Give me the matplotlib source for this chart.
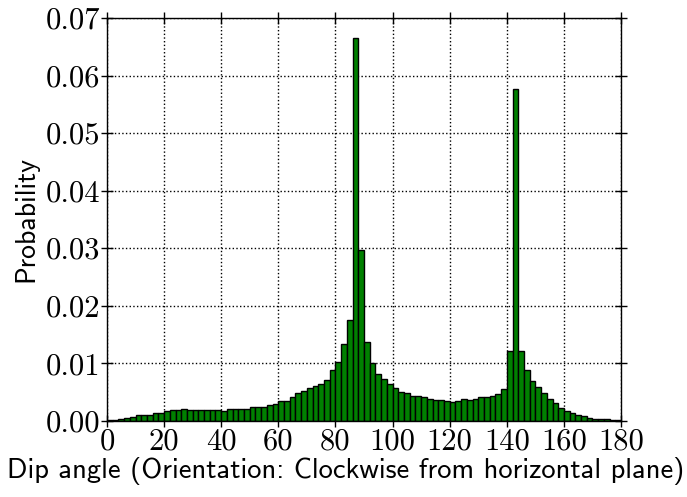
#!/usr/bin/env python3
"""Dip angle histogram (probability per 2-degree bin)."""

import numpy as np
import matplotlib
matplotlib.use("Agg")
import matplotlib.pyplot as plt

# 2-degree bins from 0 to 180
BIN_WIDTH = 2
bin_starts = np.arange(0, 180, BIN_WIDTH)

probability = [
    # 0 - 34
    0.00012, 0.00023, 0.0004, 0.0005, 0.0007, 0.001, 0.001, 0.0011, 0.0013,
    0.00145, 0.0017, 0.0019, 0.00185, 0.002, 0.00197, 0.0019, 0.0019,
    # 34 - 68
    0.0019, 0.00185, 0.00185, 0.0018, 0.002, 0.002, 0.00215, 0.00215, 0.0024,
    0.0024, 0.0025, 0.0027, 0.003, 0.0034, 0.0035, 0.0042, 0.0048,
    # 68 - 86
    0.0052, 0.0057, 0.006, 0.0064, 0.0071, 0.0088, 0.0103, 0.0134, 0.0176,
    # 86 - 106
    0.0665, 0.0297, 0.0138, 0.0100, 0.0081, 0.0073, 0.0064, 0.0058, 0.0051, 0.0048,
    # 106 - 140
    0.0044, 0.0043, 0.0041, 0.0038, 0.00365, 0.00365, 0.0035, 0.00325, 0.0035,
    0.0038, 0.00365, 0.0039, 0.0042, 0.0041, 0.0043, 0.0047, 0.0055,
    # 140 - 180
    0.0121, 0.0576, 0.0121, 0.0089, 0.0069, 0.0059, 0.0048, 0.0038, 0.0032,
    0.0022, 0.0017, 0.0013, 0.0010, 0.0008, 0.0006, 0.0004, 0.0003, 0.0003,
    0.00012, 0.0001,
]

x_ticks = np.arange(0, 181, 20)
y_ticks = np.arange(0, 0.0701, 0.01)

plt.rcParams.update({
    "font.size": 20,
    "axes.unicode_minus": False,
})

fig = plt.figure(figsize=(6.87, 4.97), dpi=100)
ax = fig.add_axes([0.1557, 0.153, 0.7483, 0.8108])

ax.bar(bin_starts, probability, width=BIN_WIDTH, align="edge",
       color="green", edgecolor="black", linewidth=1.0, zorder=2)

ax.set_xlim(0, 180)
ax.set_ylim(0, 0.07)
ax.set_xticks(x_ticks)
ax.set_yticks(y_ticks)
ax.set_xticklabels([f"{t:d}" for t in x_ticks], family="cmr10", fontsize=22)
ax.set_yticklabels([f"{t:.2f}" for t in y_ticks], family="cmr10", fontsize=22)

ax.tick_params(direction="inout", length=8, width=1, top=True, right=True, pad=1)
ax.grid(True, color="black", linestyle=":", linewidth=1, zorder=0)
ax.set_axisbelow(True)
for s in ax.spines.values():
    s.set_linewidth(1)

ax.set_xlabel("Dip angle (Orientation: Clockwise from horizontal plane)",
              family="cmss10", fontsize=20.5, labelpad=1)
ax.xaxis.label.set_x(0.465)  # label sits a bit left of the axes centre
ax.set_ylabel("Probability", family="cmss10", fontsize=20, labelpad=5)

fig.savefig("out.png", dpi=100)
